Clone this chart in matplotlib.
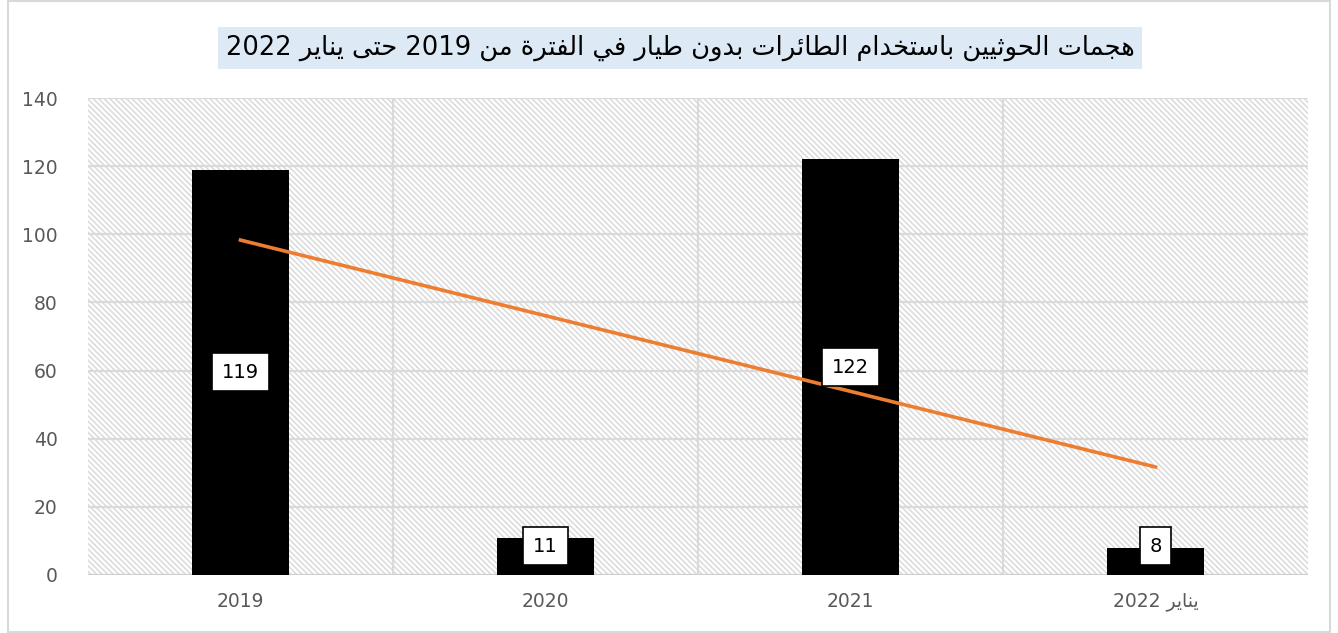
import numpy as np
import matplotlib
matplotlib.use('Agg')
import matplotlib.pyplot as plt
from matplotlib.patches import Rectangle

# Data
categories = ["2019", "2020", "2021", "يناير 2022"]
attacks = [119, 11, 122, 8]
title_text = "هجمات الحوثيين باستخدام الطائرات بدون طيار في الفترة من 2019 حتى يناير 2022"

# Arabic shaping (matplotlib has no RTL support): presentation forms B
# letter -> (isolated base codepoint, dual-joining?)
FORMS = {
    'ء': (0xFE80, False), 'آ': (0xFE81, False), 'أ': (0xFE83, False), 'ؤ': (0xFE85, False),
    'إ': (0xFE87, False), 'ئ': (0xFE89, True), 'ا': (0xFE8D, False), 'ب': (0xFE8F, True),
    'ة': (0xFE93, False), 'ت': (0xFE95, True), 'ث': (0xFE99, True), 'ج': (0xFE9D, True),
    'ح': (0xFEA1, True), 'خ': (0xFEA5, True), 'د': (0xFEA9, False), 'ذ': (0xFEAB, False),
    'ر': (0xFEAD, False), 'ز': (0xFEAF, False), 'س': (0xFEB1, True), 'ش': (0xFEB5, True),
    'ص': (0xFEB9, True), 'ض': (0xFEBD, True), 'ط': (0xFEC1, True), 'ظ': (0xFEC5, True),
    'ع': (0xFEC9, True), 'غ': (0xFECD, True), 'ف': (0xFED1, True), 'ق': (0xFED5, True),
    'ك': (0xFED9, True), 'ل': (0xFEDD, True), 'م': (0xFEE1, True), 'ن': (0xFEE5, True),
    'ه': (0xFEE9, True), 'و': (0xFEED, False), 'ى': (0xFEEF, False), 'ي': (0xFEF1, True),
}


def shape_word(word):
    out = []
    n = len(word)
    for i, ch in enumerate(word):
        if ch not in FORMS:
            out.append(ch)
            continue
        base, dual = FORMS[ch]
        prev_joins = i > 0 and word[i - 1] in FORMS and FORMS[word[i - 1]][1]
        next_joins = dual and i < n - 1 and word[i + 1] in FORMS
        if ch == 'ء':
            prev_joins = next_joins = False
        if prev_joins and next_joins:
            out.append(chr(base + 3))
        elif next_joins:
            out.append(chr(base + 2))
        elif prev_joins:
            out.append(chr(base + 1))
        else:
            out.append(chr(base))
    return ''.join(out)


def rtl(text):
    words = []
    for w in text.split(' '):
        if any(c in FORMS for c in w):
            words.append(shape_word(w)[::-1])
        else:
            words.append(w)
    return ' '.join(words[::-1])


plt.rcParams['font.family'] = ['DejaVu Sans']
plt.rcParams['hatch.linewidth'] = 1.1

fig = plt.figure(figsize=(13.38, 6.33), dpi=100)
ax = fig.add_axes([88 / 1338, 1 - 575 / 633, 1220 / 1338, 477 / 633])

# outer chart border
fig.patches.append(Rectangle((8 / 1338, 0.002), 1322 / 1338, 0.996, transform=fig.transFigure,
                             fill=False, edgecolor='#d9d9d9', linewidth=1.5))

x = np.arange(len(categories))

# hatched plot area
ax.add_patch(Rectangle((0, 0), 1, 1, transform=ax.transAxes, facecolor='white',
                       edgecolor='#dadada', hatch='\\' * 6, linewidth=0, zorder=0))

for v in range(0, 141, 20):
    ax.axhline(v, color='#dadada', linewidth=1.6, zorder=1)
for b in x[:-1] + 0.5:
    ax.axvline(b, color='#dadada', linewidth=1.6, zorder=1)

ax.bar(x, attacks, width=0.315, color='black', zorder=2)

# linear trend line
slope, icpt = np.polyfit(x, attacks, 1)
ax.plot(x, slope * x + icpt, color='#ED7D31', linewidth=2.6, zorder=3)

for xi, v in zip(x, attacks):
    ax.text(xi, max(v / 2, 8.5), str(v), ha='center', va='center', fontsize=14, color='black',
            zorder=4, bbox=dict(boxstyle='square,pad=0.5', facecolor='white', edgecolor='black',
                                linewidth=1.2))

ax.set_xlim(-0.5, len(categories) - 0.5)
ax.set_ylim(0, 140)
ax.set_yticks(range(0, 141, 20))
ax.set_xticks(x)
ax.set_xticklabels([rtl(c) for c in categories])
ax.tick_params(axis='both', length=0, labelsize=13.5, labelcolor='#595959')
ax.tick_params(axis='x', pad=12)
ax.tick_params(axis='y', pad=22)
for s in ax.spines.values():
    s.set_visible(False)
ax.axhline(0, color='#d0d0d0', linewidth=1.6, zorder=1)

fig.text(680 / 1338, 1 - 48 / 633, rtl(title_text), ha='center', va='center', fontsize=18.5,
         color='black',
         bbox=dict(boxstyle='square,pad=0.3', facecolor='#dde9f5', edgecolor='none'))

fig.savefig('out.png', dpi=100)
